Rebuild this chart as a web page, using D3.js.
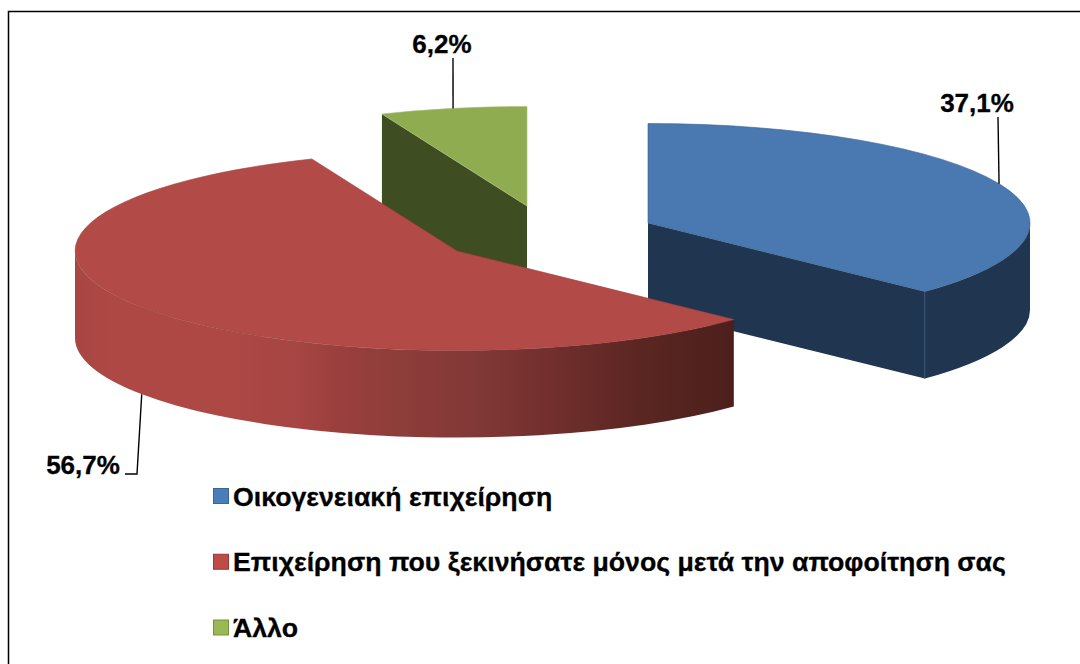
<!DOCTYPE html>
<html>
<head>
<meta charset="utf-8">
<script src="https://d3js.org/d3.v7.min.js"></script>
<style>
  html, body { margin: 0; background: #fff; }
  svg { display: block; }
  text { font-family: "Liberation Sans", Arial, sans-serif; font-weight: bold; fill: #000; stroke: #000; stroke-width: 0.3; }
</style>
</head>
<body>
<div id="chart"></div>
<script>
"use strict"
// dados
var categorias = ["Οικογενειακή επιχείρηση", "Επιχείρηση που ξεκινήσατε μόνος μετά την αποφοίτηση σας", "Άλλο"];
var valores = [37.1, 56.7, 6.2];
var rotulos = ["37,1%", "56,7%", "6,2%"];

var largura = 1080, altura = 664;
var rx = 382, ry = 99.5, prof = 87;

// slice centres, label anchors and colours, same order as categorias
var centros = [[648, 223], [457, 251], [527, 206]];
var posRotulos = [[977, 112, "middle"], [83, 474, "middle"], [442, 53, "middle"]];
var guias = [
  [[0, 0], [998, 117]],
  [[0, 0], [137, 474], [125, 474]],
  [[0, 0], [453, 58]]
];
var corTopo = ["#4a78b0", "#b24b47", "#8fac50"];
var corLateral = ["#203650", "url(#lateralVermelha)", "#3f4d22"];
var corBorda = ["#39618f", "#a03f3d", "#a9bf78"];
var corLegenda = ["#4a7ebb", "#be4b48", "#98b954"];
var corLegendaBorda = ["#3a6595", "#953a38", "#76923c"];

var svg = d3.select("#chart").append("svg")
  .attr("width", largura)
  .attr("height", altura);

var grad = svg.append("defs").append("linearGradient")
  .attr("id", "lateralVermelha")
  .attr("gradientUnits", "userSpaceOnUse")
  .attr("x1", 75).attr("x2", 734).attr("y1", 0).attr("y2", 0);
[[0, "#a84644"], [0.06, "#ae4845"], [0.23, "#ad4845"], [0.34, "#a64543"], [0.4, "#9a3f3d"],
 [0.49, "#8e3d3a"], [0.615, "#803836"], [0.72, "#722f2d"], [0.86, "#5a2622"], [1, "#4d1f1c"]].forEach(function(s) {
  grad.append("stop").attr("offset", s[0]).attr("stop-color", s[1]);
});

// frame: only the top and left edges are in the picture
svg.append("path")
  .attr("d", "M8.5,664V11.5H1080")
  .attr("fill", "none")
  .attr("stroke", "#000")
  .attr("stroke-width", 1.5);

var fatias = d3.pie().sort(null).value(function(d) { return d; })(valores);

function ponto(i, ang) {
  return [centros[i][0] + rx * Math.sin(ang), centros[i][1] - ry * Math.cos(ang)];
}

function parede(i, a0, a1) {
  var p0 = ponto(i, a0), p1 = ponto(i, a1);
  var grande = (a1 - a0) > Math.PI ? 1 : 0;
  return "M" + p0 + "A" + rx + "," + ry + " 0 " + grande + " 1 " + p1 +
    "L" + [p1[0], p1[1] + prof] +
    "A" + rx + "," + ry + " 0 " + grande + " 0 " + [p0[0], p0[1] + prof] + "Z";
}

function corte(i, ang, h) {
  var c = centros[i], p = ponto(i, ang);
  return "M" + c + "L" + p + "L" + [p[0], p[1] + h] + "L" + [c[0], c[1] + h] + "Z";
}

var arco = d3.arc().innerRadius(0).outerRadius(1);
var direita = Math.PI / 2, esquerda = 3 * Math.PI / 2;

// back to front: blue, green, then the red slice over both
[0, 2, 1].forEach(function(i) {
  var f = fatias[i];
  var g = svg.append("g");

  // cut faces that look at the viewer
  if (i == 0) g.append("path").attr("d", corte(i, f.endAngle, prof)).attr("fill", corLateral[i]);
  // green runs a bit deeper so it tucks under the red edge
  if (i == 2) g.append("path").attr("d", corte(i, f.startAngle, prof + 6)).attr("fill", corLateral[i]);

  // outer wall, only the front half of the ellipse
  var a0 = Math.max(f.startAngle, direita), a1 = Math.min(f.endAngle, esquerda);
  if (a1 > a0) {
    g.append("path").attr("d", parede(i, a0, a1)).attr("fill", corLateral[i]);
  }
  if (i == 0) {
    var p = ponto(i, f.endAngle);
    g.append("line")
      .attr("x1", p[0]).attr("x2", p[0])
      .attr("y1", p[1]).attr("y2", p[1] + prof)
      .attr("stroke", "#2f5079").attr("stroke-width", 1);
  }

  // top face
  g.append("path")
    .attr("transform", "translate(" + centros[i] + ") scale(" + rx + "," + ry + ")")
    .attr("d", arco({startAngle: f.startAngle, endAngle: f.endAngle}))
    .attr("fill", corTopo[i])
    .attr("stroke", corBorda[i])
    .attr("stroke-width", 0.6)
    .attr("vector-effect", "non-scaling-stroke");
});

// leader lines start on the rim at the middle of each slice
var linha = d3.line();
fatias.forEach(function(f, i) {
  var meio = (f.startAngle + f.endAngle) / 2;
  var ini = ponto(i, meio);
  if (meio > direita && meio < esquerda) ini[1] += prof;
  var pts = guias[i].slice();
  pts[0] = ini;
  svg.append("path")
    .attr("d", linha(pts))
    .attr("fill", "none")
    .attr("stroke", "#000")
    .attr("stroke-width", 1.4);
  svg.append("text")
    .attr("x", posRotulos[i][0])
    .attr("y", posRotulos[i][1])
    .attr("text-anchor", posRotulos[i][2])
    .attr("font-size", 26)
    .text(rotulos[i]);
});

// legend
var yLegenda = d3.scalePoint().domain(categorias).range([496, 627.5]);
categorias.forEach(function(c, i) {
  var y = yLegenda(c);
  svg.append("rect")
    .attr("x", 213.5).attr("y", y - 7.5)
    .attr("width", 15).attr("height", 15)
    .attr("fill", corLegenda[i])
    .attr("stroke", corLegendaBorda[i])
    .attr("stroke-width", 1);
  svg.append("text")
    .attr("x", 233)
    .attr("y", y + 9.5)
    .attr("font-size", 26.7)
    .text(c);
});
</script>
</body>
</html>
